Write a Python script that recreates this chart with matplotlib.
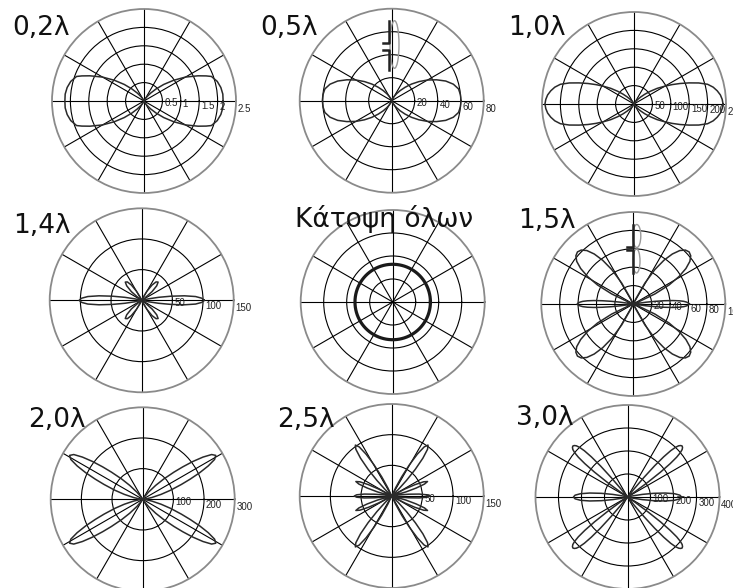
import numpy as np
import matplotlib
matplotlib.use('Agg')
import matplotlib.pyplot as plt
from matplotlib.patches import Ellipse

W, H = 733, 588
R = 92  # promień każdego wykresu w pikselach

# ---- dane ----
titles = ['0,2λ', '0,5λ', '1,0λ', '1,4λ', 'Κάτοψη όλων', '1,5λ', '2,0λ', '2,5λ', '3,0λ']
r_max = [2.5, 80, 250, 150, 1.0, 100, 300, 150, 400]
rings = [[0.5, 1, 1.5, 2], [20, 40, 60], [50, 100, 150, 200], [50, 100],
         [0.25, 0.5, 0.75], [20, 40, 60, 80], [100, 200], [50, 100], [100, 200, 300]]
ring_labels = [['0.5', '1', '1.5', '2', '2.5'], ['20', '40', '60', '80'],
               ['50', '100', '150', '200', '250'], ['50', '100', '150'], [],
               ['20', '40', '60', '80', '100'], ['100', '200', '300'],
               ['50', '100', '150'], ['100', '200', '300', '400']]

# ćwiartka wykresu: kąt od poziomu (stopnie) i promień
phi_02 = [0, 5, 10, 15, 20, 22, 25, 30, 35, 40, 45, 50, 55, 60, 65, 70, 75, 90]
r_02 = [2.15, 2.15, 2.12, 2.06, 1.95, 1.82, 1.62, 1.30, 0.98, 0.70, 0.46, 0.28, 0.15, 0.07, 0.03, 0.01, 0, 0]

phi_05 = [0, 5, 10, 15, 20, 25, 30, 35, 40, 45, 50, 55, 60, 65, 70, 75, 80, 90]
r_05 = [60.3, 60, 59, 55.5, 50, 43, 36, 29, 22.5, 16.5, 11.5, 7.5, 4.5, 2.5, 1.2, 0.5, 0.1, 0]

phi_10 = [0, 3, 6, 9, 12, 15, 18, 21, 24, 27, 30, 34, 38, 42, 46, 50, 55, 60, 90]
r_10 = [242, 240, 236, 229, 220, 207, 185, 160, 137, 116, 97, 76, 56, 40, 27, 17, 9, 4, 0]

phi_14 = [0, 2, 4, 6, 8, 10, 12, 14, 32, 36, 40, 44, 48, 52, 56, 60, 64, 68, 90]
r_14 = [102, 98, 88, 70, 48, 28, 12, 0, 0, 6, 22, 34, 40, 38, 30, 17, 6, 0, 0]

r_top = 0.41

phi_15 = [0, 1, 2, 3, 4, 5, 6, 7, 8, 10, 20, 22, 25, 28, 31, 34, 37, 40, 43, 46, 49, 52, 55, 58, 61, 64, 66, 90]
r_15 = [61, 60, 58, 55, 50, 43, 34, 24, 14, 0, 0, 6, 26, 44, 58, 69, 77, 81.5, 83, 81.5, 77, 69, 58, 44, 26, 6, 0, 0]

phi_20 = [0, 6, 11, 15, 18, 21, 23, 25, 27, 29, 31, 33, 35, 37, 39, 41, 44, 47, 51, 56, 61, 90]
r_20 = [0, 8, 30, 62, 95, 135, 168, 205, 240, 268, 278, 268, 240, 205, 168, 135, 95, 62, 30, 8, 0, 0]

phi_25 = [0, 2, 4, 6, 8, 10, 14, 16, 18, 20, 22, 24, 26, 28, 30,
          42.5, 44.5, 46.5, 48.5, 50.5, 52.5, 54.5, 56.5, 58.5, 60.5, 62.5, 64.5, 66.5, 90]
r_25 = [61, 57, 45, 28, 12, 0, 0, 24, 42, 57, 63, 57, 42, 24, 0,
        0, 15, 35, 58, 80, 96, 102, 96, 80, 58, 35, 15, 0, 0]

phi_30 = [0, 2, 4, 6, 8, 10, 12, 14, 34, 35, 36, 37, 38, 39, 40, 41, 42, 43,
          44, 45, 46, 47, 48, 49, 50, 51, 52, 90]
r_30 = [235, 228, 205, 165, 115, 65, 25, 0, 0, 40, 110, 180, 235, 275, 300, 315, 322, 325,
        322, 315, 300, 275, 235, 180, 110, 40, 0, 0]

patterns = [(phi_02, r_02), (phi_05, r_05), (phi_10, r_10), (phi_14, r_14), None,
            (phi_15, r_15), (phi_20, r_20), (phi_25, r_25), (phi_30, r_30)]

centers = [(144, 101), (391.7, 100.7), (634, 104),
           (141.7, 300.3), (392.7, 302), (633.3, 304),
           (142.7, 499.3), (391.7, 496), (627.5, 497)]
title_pos = [(12, 35), (260, 35), (508, 35), (12.7, 233), (295, 227),
             (518, 228), (28, 427), (277, 427), (516, 425)]


def full_pattern(phi, r):
    # symetria względem obu osi
    phi = np.array(phi, dtype=float)
    r = np.array(r, dtype=float)
    th = np.concatenate([phi, 180 - phi[::-1], 180 + phi, 360 - phi[::-1]])
    rr = np.concatenate([r, r[::-1], r, r[::-1]])
    return np.deg2rad(th), rr


def ax_xy(dx, dy):
    return 0.5 + dx / (2 * R), 0.5 + dy / (2 * R)


def dipol(ax, bar_dx, top, jog_hi, jog_lo, bottom, bumps):
    for seg in ([(bar_dx, top), (bar_dx, jog_hi), (bar_dx - 6.5, jog_hi)],
                [(bar_dx - 6.5, jog_lo), (bar_dx, jog_lo), (bar_dx, bottom)]):
        pts = [ax_xy(*p) for p in seg]
        ax.plot([p[0] for p in pts], [p[1] for p in pts], color='#222', lw=1.8,
                transform=ax.transAxes, clip_on=False, zorder=5)
    for (bx, by, bw, bh) in bumps:
        ax.add_patch(Ellipse(ax_xy(bx, by), bw / (2 * R), bh / (2 * R), fill=False,
                             edgecolor='#999', lw=1.0, transform=ax.transAxes,
                             clip_on=False, zorder=4))


fig = plt.figure(figsize=(W / 100, H / 100), dpi=100)
fig.patch.set_facecolor('white')

for i in range(9):
    cx, cy = centers[i]
    ax = fig.add_axes([(cx - R) / W, 1 - (cy + R) / H, 2 * R / W, 2 * R / H], projection='polar')
    ax.set_facecolor('white')

    if patterns[i] is not None:
        th, rr = full_pattern(*patterns[i])
        ax.plot(th, rr, color='#2a2a2a', lw=1.1, zorder=3)
    else:
        t = np.linspace(0, 2 * np.pi, 361)
        ax.plot(t, np.full_like(t, r_top), color='#1a1a1a', lw=2.3, zorder=3)

    ax.set_ylim(0, r_max[i])
    ax.set_yticks(rings[i])
    ax.set_yticklabels([])
    ax.set_xticks(np.deg2rad(np.arange(0, 360, 30)))
    ax.set_xticklabels([])
    ax.tick_params(length=0)
    ax.grid(True, color='black', lw=0.8)
    ax.spines['polar'].set_color('#8a8a8a')
    ax.spines['polar'].set_linewidth(1.3)

    for lab in ring_labels[i]:
        ax.annotate(lab, xy=(np.deg2rad(-5), float(lab)), xytext=(1.5, 0),
                    textcoords='offset points', ha='left', va='center',
                    fontsize=7, family='Liberation Sans', color='#222',
                    annotation_clip=False, zorder=6)

    if i == 1:
        dipol(ax, -2.7, 80, 58, 50.7, 30.7, [(2.8, 56.2, 9, 47.6)])
    if i == 5:
        dipol(ax, 0, 79.4, 57.5, 54, 31, [(3.5, 68, 8, 23), (3.2, 43, 7, 24)])

    tx, ty = title_pos[i]
    fig.text(tx / W, 1 - ty / H, titles[i], ha='left', va='baseline',
             fontsize=19, family='DejaVu Sans', color='#111')

fig.savefig('out.png', dpi=100)
